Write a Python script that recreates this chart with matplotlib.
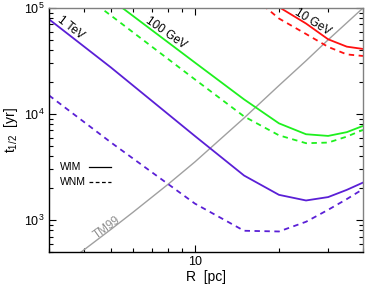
import numpy as np
import matplotlib
matplotlib.use('Agg')
import matplotlib.pyplot as plt

plt.rcParams['font.family'] = ['Liberation Sans', 'DejaVu Sans']
plt.rcParams['mathtext.default'] = 'regular'
plt.rcParams['font.size'] = 9

# radius grid [pc]
R = [3, 5, 10, 15, 20, 25, 30, 35, 40]
R_10 = [15, 20, 25, 30, 35, 40]

# t_1/2 [yr], WIM (solid) and WNM (dashed)
t_1tev_wim = [78300, 27500, 6200, 2630, 1730, 1531, 1648, 1928, 2258]
t_1tev_wnm = [15000, 5400, 1430, 793, 781, 964, 1250, 1578, 1960]
t_100gev_wim = [324000, 120800, 30560, 13740, 8170, 6450, 6220, 6750, 7730]
t_100gev_wnm = [229700, 85000, 21200, 9490, 6300, 5310, 5380, 6130, 7090]
t_10gev_wim = [190000, 102000, 71400, 50700, 43200, 41100]
t_10gev_wnm = [150000, 79600, 56900, 43000, 36500, 35300]

# TM99 SNR age vs radius
R_tm = [3, 4, 5, 6, 8, 10, 15, 20, 25, 30, 40]
t_tm = [294, 523, 817, 1186, 2170, 3540, 9180, 18580, 31800, 50100, 100000]

purple = '#5a1fd6'
green = '#1ef01e'
red = '#ff1010'
dash = (0, (3, 2.5))

fig = plt.figure(figsize=(3.74, 2.90), dpi=100)
ax = fig.add_axes([0.131, 0.131, 0.8396, 0.8414])

ax.plot(R_tm, t_tm, color='#a0a0a0', lw=1.0)
ax.plot(R, t_1tev_wim, color=purple, lw=1.3)
ax.plot(R, t_1tev_wnm, color=purple, lw=1.3, ls=dash)
ax.plot(R, t_100gev_wim, color=green, lw=1.3)
ax.plot(R, t_100gev_wnm, color=green, lw=1.3, ls=dash)
ax.plot(R_10, t_10gev_wim, color=red, lw=1.3)
ax.plot(R_10, t_10gev_wnm, color=red, lw=1.3, ls=dash)

ax.set_xscale('log')
ax.set_yscale('log')
ax.set_xlim(3, 40)
ax.set_ylim(500, 1e5)

ax.set_xticks([10])
ax.set_xticklabels(['10'])
ax.set_xticks([3, 4, 5, 6, 7, 8, 9, 20, 30, 40], minor=True)
ax.set_xticklabels([], minor=True)
ax.set_yticks([1e3, 1e4, 1e5])
ax.set_yticklabels(['$10^3$', '$10^4$', '$10^5$'])
ax.set_yticks([m * 10**e for e in (2, 3, 4) for m in range(2, 10) if 500 <= m * 10**e <= 1e5], minor=True)
ax.set_yticklabels([], minor=True)

ax.tick_params(which='both', direction='in', top=True, right=True, labelsize=9, pad=3)
ax.tick_params(which='major', length=5, width=0.8)
ax.tick_params(which='minor', length=3, width=0.8)
for s in ('top', 'right'):
    ax.spines[s].set_color('#808080')
for s in ax.spines.values():
    s.set_linewidth(1.0)

ax.set_xlabel('R  [pc]', fontsize=10, labelpad=1)
ax.set_ylabel('t$_{1/2}$  [yr]', fontsize=10, labelpad=3)

ax.text(0.07, 0.918, '1 TeV', transform=ax.transAxes, rotation=-38, ha='center', va='center', fontsize=8.5)
ax.text(0.373, 0.898, '100 GeV', transform=ax.transAxes, rotation=-35, ha='center', va='center', fontsize=8.5)
ax.text(0.838, 0.943, '10 GeV', transform=ax.transAxes, rotation=-32, ha='center', va='center', fontsize=8.5)
ax.text(0.186, 0.10, 'TM99', transform=ax.transAxes, rotation=36, ha='center', va='center', fontsize=8.5, color='#909090')

# legend for line styles
ax.text(0.036, 0.35, 'WIM', transform=ax.transAxes, ha='left', va='center', fontsize=7.5)
ax.text(0.036, 0.285, 'WNM', transform=ax.transAxes, ha='left', va='center', fontsize=7.5)
ax.plot([0.128, 0.196], [0.35, 0.35], transform=ax.transAxes, color='k', lw=0.9)
ax.plot([0.128, 0.196], [0.285, 0.285], transform=ax.transAxes, color='k', lw=0.9, ls=(0, (3, 2)))

fig.savefig('out.png', dpi=100)
